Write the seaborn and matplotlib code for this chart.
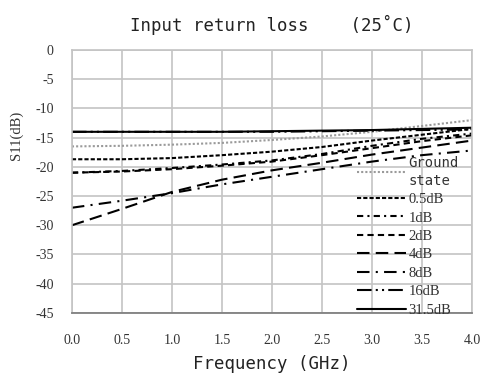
import numpy as np
import pandas as pd
import matplotlib
matplotlib.use("Agg")
import matplotlib.pyplot as plt
import seaborn as sns

freq = [0.0, 0.5, 1.0, 1.5, 2.0, 2.5, 3.0, 3.5, 4.0]
series_names = ["Ground\nstate", "0.5dB", "1dB", "2dB", "4dB", "8dB", "16dB", "31.5dB"]
s_ground = [-16.5, -16.4, -16.2, -15.9, -15.4, -14.8, -14.0, -13.0, -12.0]
s_05 = [-18.7, -18.7, -18.5, -18.0, -17.4, -16.6, -15.5, -14.5, -13.5]
s_1 = [-21.0, -20.7, -20.2, -19.6, -18.9, -17.8, -16.4, -15.2, -14.3]
s_2 = [-21.0, -20.8, -20.4, -19.8, -19.1, -18.0, -16.8, -15.6, -14.6]
s_4 = [-30.0, -27.2, -24.3, -22.2, -20.6, -19.3, -17.9, -16.7, -15.5]
s_8 = [-27.0, -25.8, -24.5, -23.0, -21.7, -20.4, -19.1, -18.0, -17.2]
s_16 = [-14.0, -14.0, -14.0, -14.0, -14.0, -13.9, -13.8, -13.7, -13.6]
s_315 = [-14.0, -14.0, -14.0, -14.0, -13.9, -13.8, -13.7, -13.5, -13.3]
x_ticks = [0.0, 0.5, 1.0, 1.5, 2.0, 2.5, 3.0, 3.5, 4.0]
y_ticks = [0, -5, -10, -15, -20, -25, -30, -35, -40, -45]

all_vals = [s_ground, s_05, s_1, s_2, s_4, s_8, s_16, s_315]
rows = []
for name, vals in zip(series_names, all_vals):
    for f, v in zip(freq, vals):
        rows.append({"Frequency": f, "S11": v, "series": name})
df = pd.DataFrame(rows)

sns.set_theme(style="whitegrid")
plt.rcParams["font.family"] = ["Liberation Serif", "DejaVu Serif"]

palette = {n: "black" for n in series_names}
palette["Ground\nstate"] = "#9a9a9a"
dashes = {
    "Ground\nstate": (1, 1),
    "0.5dB": (2, 1),
    "1dB": (3, 2, 1, 2),
    "2dB": (3, 2),
    "4dB": (6, 3),
    "8dB": (6, 3, 1, 3),
    "16dB": (7, 2, 1, 2, 1, 2),
    "31.5dB": "",
}

fig = plt.figure(figsize=(4.86, 3.82), dpi=100)
ax = fig.add_axes([0.148, 0.181, 0.823, 0.688])

sns.lineplot(data=df, x="Frequency", y="S11", hue="series", style="series",
             hue_order=series_names, style_order=series_names,
             palette=palette, dashes=dashes, linewidth=1.5, ax=ax)

ax.set_xlim(0, 4)
ax.set_ylim(-45, 0)
ax.set_xticks(x_ticks)
ax.set_xticklabels([f"{t:.1f}" for t in x_ticks])
ax.set_yticks(y_ticks)
ax.set_yticklabels([str(t).replace("\u2212", "-") for t in y_ticks])
ax.grid(True, color="#c4c4c4", linewidth=1.2)
ax.tick_params(axis="y", length=4, color="#c4c4c4", pad=9, labelsize=10, labelcolor="#333333")
ax.tick_params(axis="x", length=0, pad=15, labelsize=10, labelcolor="#333333")
for side in ["top", "right", "left"]:
    ax.spines[side].set_color("#c4c4c4")
    ax.spines[side].set_linewidth(1.2)
ax.spines["bottom"].set_color("#808080")
ax.spines["bottom"].set_linewidth(1.3)

ax.set_title("Input return loss    (25\u02daC)", family="DejaVu Sans Mono",
             fontsize=12.5, color="#222222", pad=14)
ax.set_xlabel("Frequency (GHz)", family="DejaVu Sans Mono", fontsize=12.5,
              color="#222222", labelpad=6)
ax.set_ylabel("S11(dB)", fontsize=10.5, color="#333333")
ax.yaxis.set_label_coords(-0.123, 0.677)

handles, labels = ax.get_legend_handles_labels()
if ax.get_legend() is not None:
    ax.get_legend().remove()
leg = ax.legend(handles, labels, loc="lower left", bbox_to_anchor=(0.712, -0.015),
                frameon=False, fontsize=10.5, handlelength=3.4, handletextpad=0.15,
                labelspacing=0.36, borderpad=0, borderaxespad=0)
for t in leg.get_texts():
    t.set_color("#333333")
    if t.get_text().startswith("Ground"):
        t.set_family("DejaVu Sans Mono")
        t.set_fontsize(10)
        t.set_linespacing(1.3)
for h in leg.get_lines():
    h.set_linewidth(1.5)

fig.savefig("out.png", dpi=100)
